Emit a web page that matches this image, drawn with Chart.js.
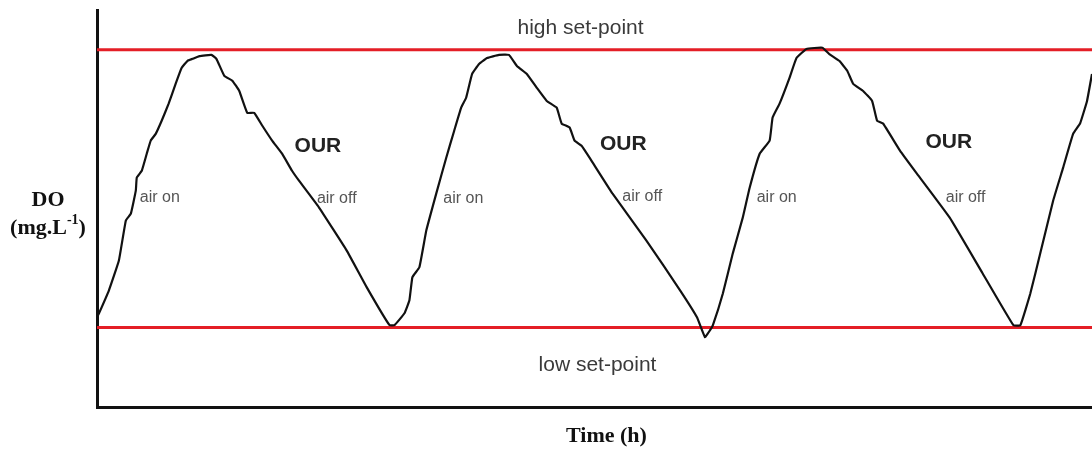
<!DOCTYPE html>
<html>
<head>
<meta charset="utf-8">
<script src="https://cdn.jsdelivr.net/npm/chart.js@4/dist/chart.umd.min.js"></script>
<style>
  html, body { margin: 0; padding: 0; background: #fff; }
  #wrap { width: 1092px; height: 451px; position: relative; }
</style>
</head>
<body>
<div id="wrap"><canvas id="doChart"></canvas></div>
<script>
/*=========================================================
DATA
=========================================================*/

// time (h) and dissolved oxygen (mg/L)
const timeValues = [
  0, 0.2, 1.2, 2.2, 2.9, 3.4, 3.9, 4.0, 4.5, 5.0, 5.4, 5.9, 6.5, 7.2, 7.9, 8.5, 9.1, 9.6,
  10.3, 11.5, 12.0, 12.8, 13.6, 14.3, 15.1, 15.8, 16.6, 17.6, 18.6, 19.6, 20.3, 22.3,
  25.1, 27.1, 29.4, 29.9, 30.9, 31.4, 31.7, 32.4, 33.1, 34.1, 35.1, 35.9, 36.6, 37.1,
  37.7, 38.4, 39.2, 40.4, 41.4, 42.2, 43.2, 44.2, 45.2, 46.2, 46.7, 47.5, 48.0, 48.7,
  49.5, 51.8, 55.2, 58.6, 60.3, 61.1, 61.6, 61.9, 62.9, 63.9, 64.9, 65.6, 66.6, 67.6,
  67.9, 68.6, 69.6, 70.3, 71.3, 72.9, 73.6, 74.6, 75.4, 76.0, 77.0, 77.9, 78.4, 79.0,
  80.7, 82.4, 85.7, 89.0, 92.1, 92.8, 93.8, 94.8, 96.1, 97.1, 98.1, 98.8, 99.5, 100
];

const doValues = [
  2.26, 2.36, 2.94, 3.69, 4.70, 4.87, 5.45, 5.78, 5.95, 6.38, 6.71, 6.88, 7.21, 7.64, 8.14, 8.54, 8.72, 8.77,
  8.84, 8.87, 8.77, 8.34, 8.22, 7.96, 7.41, 7.41, 7.09, 6.71, 6.38, 5.95, 5.70, 5.03,
  3.94, 3.02, 2.06, 2.06, 2.36, 2.69, 3.27, 3.52, 4.45, 5.38, 6.28, 6.96, 7.54, 7.79,
  8.39, 8.64, 8.79, 8.87, 8.87, 8.59, 8.39, 8.04, 7.71, 7.54, 7.14, 7.04, 6.71, 6.58,
  6.28, 5.38, 4.20, 2.94, 2.26, 1.76, 1.93, 2.06, 2.86, 3.87, 4.77, 5.53, 6.38, 6.71,
  7.29, 7.64, 8.29, 8.79, 9.02, 9.05, 8.89, 8.72, 8.47, 8.14, 7.96, 7.71, 7.21, 7.14,
  6.46, 5.88, 4.77, 3.37, 2.06, 2.06, 2.86, 3.87, 5.20, 6.03, 6.88, 7.14, 7.71, 8.39
];

const highSetPoint = 9;
const lowSetPoint = 2;
const timeRange = [0, 100];
const doRange = [0, 10];

/*=========================================================
ANNOTATIONS (data coordinates)
=========================================================*/

const notes = [
  { text: "high set-point", x: 48.6, y: 9.55, font: "21px 'Liberation Sans', Arial, sans-serif", color: "#3a3a3a", align: "center" },
  { text: "low set-point", x: 50.3, y: 1.06, font: "21px 'Liberation Sans', Arial, sans-serif", color: "#3a3a3a", align: "center" },
  { text: "OUR", x: 22.2, y: 6.58, font: "bold 21px 'Liberation Sans', Arial, sans-serif", color: "#222", align: "center" },
  { text: "OUR", x: 52.9, y: 6.63, font: "bold 21px 'Liberation Sans', Arial, sans-serif", color: "#222", align: "center" },
  { text: "OUR", x: 85.6, y: 6.66, font: "bold 21px 'Liberation Sans', Arial, sans-serif", color: "#222", align: "center" },
  { text: "air on", x: 4.3, y: 5.28, font: "16px 'Liberation Sans', Arial, sans-serif", color: "#555", align: "left" },
  { text: "air on", x: 34.8, y: 5.25, font: "16px 'Liberation Sans', Arial, sans-serif", color: "#555", align: "left" },
  { text: "air on", x: 66.3, y: 5.28, font: "16px 'Liberation Sans', Arial, sans-serif", color: "#555", align: "left" },
  { text: "air off", x: 22.1, y: 5.25, font: "16px 'Liberation Sans', Arial, sans-serif", color: "#555", align: "left" },
  { text: "air off", x: 52.8, y: 5.30, font: "16px 'Liberation Sans', Arial, sans-serif", color: "#555", align: "left" },
  { text: "air off", x: 85.3, y: 5.28, font: "16px 'Liberation Sans', Arial, sans-serif", color: "#555", align: "left" }
];

/*=========================================================
TEXT PLUGIN
=========================================================*/

const textPlugin = {
  id: "textPlugin",
  afterDatasetsDraw(chart) {
    const ctx = chart.ctx;
    const xs = chart.scales.x;
    const ys = chart.scales.y;
    const area = chart.chartArea;

    ctx.save();
    ctx.textBaseline = "middle";

    notes.forEach((n) => {
      ctx.font = n.font;
      ctx.fillStyle = n.color;
      ctx.textAlign = n.align;
      ctx.fillText(n.text, xs.getPixelForValue(n.x), ys.getPixelForValue(n.y));
    });

    // y axis title
    const serif = "'Liberation Serif', 'Times New Roman', serif";
    ctx.fillStyle = "#111";
    ctx.font = "bold 22px " + serif;
    ctx.textAlign = "center";
    ctx.fillText("DO", 48, 200);

    const part1 = "(mg.L";
    const sup = "-1";
    const part2 = ")";
    const w1 = ctx.measureText(part1).width;
    ctx.font = "bold 14px " + serif;
    const ws = ctx.measureText(sup).width;
    ctx.font = "bold 22px " + serif;
    const w2 = ctx.measureText(part2).width;
    let sx = 48 - (w1 + ws + w2) / 2;
    ctx.textAlign = "left";
    ctx.fillText(part1, sx, 228);
    ctx.font = "bold 14px " + serif;
    ctx.fillText(sup, sx + w1, 220);
    ctx.font = "bold 22px " + serif;
    ctx.fillText(part2, sx + w1 + ws, 228);

    // x axis title
    ctx.textAlign = "center";
    ctx.fillText("Time (h)", (area.left + area.right) / 2 + 12, 436);

    ctx.restore();
  }
};

/*=========================================================
CHART
=========================================================*/

const canvas = document.getElementById("doChart");

new Chart(canvas, {
  type: "line",

  data: {
    datasets: [
      {
        label: "DO",
        data: timeValues.map((t, i) => ({ x: t, y: doValues[i] })),
        borderColor: "#111",
        borderWidth: 2.2,
        pointRadius: 0,
        tension: 0.1,
        order: 0
      },
      {
        label: "high set-point",
        data: [{ x: timeRange[0], y: highSetPoint }, { x: timeRange[1], y: highSetPoint }],
        borderColor: "#e41e26",
        borderWidth: 3,
        pointRadius: 0,
        order: 1
      },
      {
        label: "low set-point",
        data: [{ x: timeRange[0], y: lowSetPoint }, { x: timeRange[1], y: lowSetPoint }],
        borderColor: "#e41e26",
        borderWidth: 3,
        pointRadius: 0,
        order: 1
      }
    ]
  },

  options: {
    responsive: true,
    maintainAspectRatio: false,
    animation: false,
    layout: {
      padding: { left: 97, top: 10, right: 0, bottom: 44 }
    },
    plugins: {
      legend: { display: false },
      tooltip: { enabled: false }
    },
    scales: {
      x: {
        type: "linear",
        min: timeRange[0],
        max: timeRange[1],
        ticks: { display: false },
        grid: { display: false, drawTicks: false },
        border: { display: true, color: "#111", width: 3 }
      },
      y: {
        min: doRange[0],
        max: doRange[1],
        ticks: { display: false },
        grid: { display: false, drawTicks: false },
        border: { display: true, color: "#111", width: 3 }
      }
    }
  },

  plugins: [textPlugin]
});
</script>
</body>
</html>
